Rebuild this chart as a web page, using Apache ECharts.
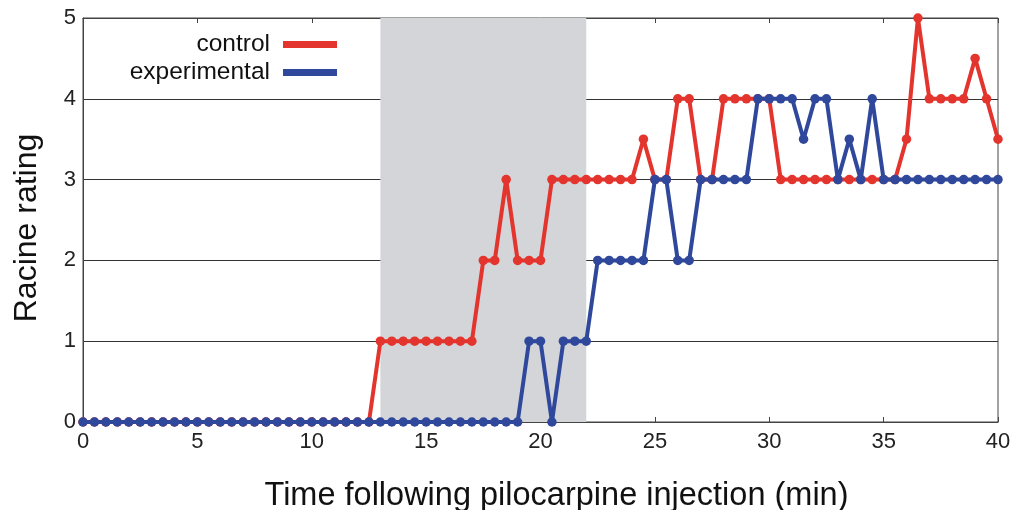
<!DOCTYPE html>
<html>
<head>
<meta charset="utf-8">
<script src="https://cdn.jsdelivr.net/npm/echarts@6/dist/echarts.min.js"></script>
<style>
  html, body { margin: 0; padding: 0; background: #fff; }
  #chart { width: 1010px; height: 510px; }
</style>
</head>
<body>
<div id="chart"></div>
<script>
// time points, every half minute from 0 to 40
var times = []
for (var i = 0; i <= 80; i++) times.push(i / 2)

// Racine ratings
var control = [
  0, 0, 0, 0, 0, 0, 0, 0, 0, 0, 0, 0, 0, 0, 0, 0, 0, 0, 0, 0, 0, 0, 0, 0, 0, 0,
  1, 1, 1, 1, 1, 1, 1, 1, 1,
  2, 2, 3, 2, 2, 2,
  3, 3, 3, 3, 3, 3, 3, 3, 3.5, 3, 3, 4, 4, 3, 3,
  4, 4, 4, 4, 4,
  3, 3, 3, 3, 3, 3, 3, 3, 3, 3, 3,
  3.5, 5, 4, 4, 4, 4, 4.5, 4, 3.5
]
var experimental = [
  0, 0, 0, 0, 0, 0, 0, 0, 0, 0, 0, 0, 0, 0, 0, 0, 0, 0, 0, 0,
  0, 0, 0, 0, 0, 0, 0, 0, 0, 0, 0, 0, 0, 0, 0, 0, 0, 0, 0,
  1, 1, 0, 1, 1, 1,
  2, 2, 2, 2, 2, 3, 3, 2, 2,
  3, 3, 3, 3, 3, 4, 4, 4, 4, 3.5, 4, 4, 3, 3.5, 3, 4,
  3, 3, 3, 3, 3, 3, 3, 3, 3, 3, 3
]
var shaded = [13, 22]

var font = 'Liberation Sans, Arial, sans-serif'
var red = '#e3342d'
var blue = '#2f489c'

function pairs(ys) {
  return times.map(function (t, k) { return [t, ys[k]] })
}

var myChart = echarts.init(document.getElementById('chart'))
var option = {
  animation: false,
  backgroundColor: '#fff',
  grid: {
    left: 83, right: 12, top: 18, bottom: 88,
    outerBoundsMode: 'none',
    show: true, borderColor: '#444', borderWidth: 1
  },
  legend: {
    orient: 'vertical',
    align: 'right',
    right: 668,
    top: 27,
    itemGap: 3,
    itemWidth: 54,
    itemHeight: 7,
    icon: 'rect',
    textStyle: {
      fontFamily: font, fontSize: 24.5, lineHeight: 24, color: '#111',
      padding: [0, 8, 0, 0]
    },
    data: ['control', 'experimental']
  },
  xAxis: [{
    type: 'value',
    min: 0, max: 40, interval: 5,
    name: 'Time following pilocarpine injection (min)',
    nameLocation: 'middle',
    nameGap: 58,
    nameTextStyle: {
      fontFamily: font, fontSize: 32.5, color: '#111',
      padding: [0, 0, 0, 32]
    },
    axisLine: { lineStyle: { color: '#444', width: 1 } },
    axisTick: { inside: true, length: 5, lineStyle: { color: '#444' } },
    axisLabel: { fontFamily: font, fontSize: 22, color: '#222', margin: 9 },
    splitLine: { show: false }
  }, {
    type: 'value',
    position: 'top',
    min: 0, max: 40, interval: 5,
    axisLine: { lineStyle: { color: '#444', width: 1 } },
    axisTick: { inside: true, length: 5, lineStyle: { color: '#444' } },
    axisLabel: { show: false },
    splitLine: { show: false }
  }],
  yAxis: {
    type: 'value',
    min: 0, max: 5, interval: 1,
    name: 'Racine rating',
    nameLocation: 'middle',
    nameGap: 40,
    nameTextStyle: {
      fontFamily: font, fontSize: 32, color: '#111',
      padding: [0, 16, 0, 0]
    },
    axisLine: { show: true, lineStyle: { color: '#444', width: 1 } },
    axisTick: { show: false },
    axisLabel: { fontFamily: font, fontSize: 22, color: '#222', margin: 7 },
    splitLine: { lineStyle: { color: '#333', width: 1 } }
  },
  series: [
    {
      name: 'control',
      type: 'line',
      data: pairs(control),
      symbol: 'circle',
      symbolSize: 9.5,
      color: red,
      lineStyle: { color: red, width: 4 },
      itemStyle: { color: red },
      markArea: {
        silent: true,
        itemStyle: { color: '#d3d5d8' },
        data: [[{ xAxis: shaded[0] }, { xAxis: shaded[1] }]]
      },
      z: 2
    },
    {
      name: 'experimental',
      type: 'line',
      data: pairs(experimental),
      symbol: 'circle',
      symbolSize: 9.5,
      color: blue,
      lineStyle: { color: blue, width: 4 },
      itemStyle: { color: blue },
      z: 3
    }
  ]
}
myChart.setOption(option)
</script>
</body>
</html>
